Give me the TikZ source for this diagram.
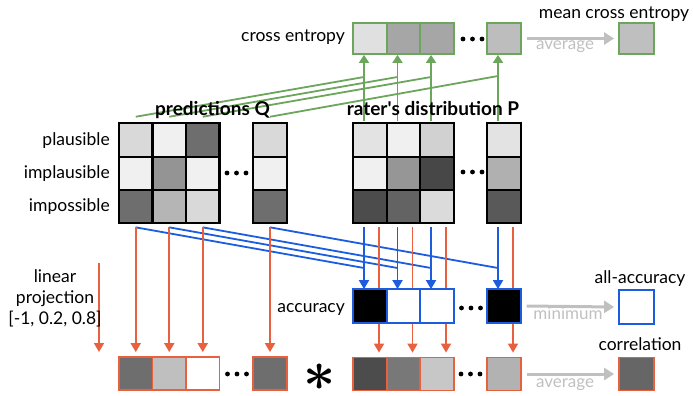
\documentclass[tikz,border=0pt]{standalone}
\usepackage{graphicx}
\usepackage{fontspec}
\setmainfont{Lato}
\usetikzlibrary{arrows.meta,calc}
\definecolor{ggreen}{RGB}{108,165,92}
\definecolor{gblue}{RGB}{28,92,222}
\definecolor{gred}{RGB}{233,96,62}
\definecolor{ggrey}{RGB}{192,192,192}
\newcommand{\mydots}[2]{\foreach \dx in {-9.5,0,9.5} \fill ({#1+\dx},#2) circle (2.4pt);}
\tikzset{
  cell/.style={draw=black, line width=2.2pt, minimum width=33.5pt, minimum height=33.3pt, inner sep=0pt, fill=#1},
  gcell/.style={draw=ggreen, line width=1.8pt, minimum width=33.5pt, minimum height=31pt, inner sep=0pt, fill=#1},
  bcell/.style={draw=gblue, line width=1.8pt, minimum width=33.5pt, minimum height=34pt, inner sep=0pt, fill=#1},
  rcell/.style={draw=gred, line width=1.8pt, minimum width=33.5pt, minimum height=33pt, inner sep=0pt, fill=#1},
  lab/.style={font=\fontsize{17.5}{21}\selectfont, inner sep=0pt},
  ttl/.style={font=\fontsize{19}{22}\selectfont\bfseries, inner sep=0pt},
  glab/.style={font=\fontsize{17}{20}\selectfont, text=ggrey, inner sep=0pt},
  gline/.style={draw=ggreen, line width=1.8pt},
  garrow/.style={gline, -{Triangle[width=10pt,length=8pt]}},
  bline/.style={draw=gblue, line width=1.8pt},
  barrow/.style={bline, -{Triangle[width=10pt,length=9pt]}},
  rarrow/.style={draw=gred, line width=1.8pt, -{Triangle[width=10pt,length=9pt]}},
  greyarrow/.style={draw=ggrey, line width=3pt, -{Triangle[width=12pt,length=10pt]}},
}
\begin{document}
\begin{tikzpicture}[x=1pt,y=-1pt]
\useasboundingbox (0,0) rectangle (693,396);

% ---- cross entropy row and its mean
\foreach \c/\x/\col in {1/370/black!12, 2/403.5/black!35, 3/437/black!35, 4/504/black!26}
  \node[gcell=\col] (ce\c) at (\x,38.5) {};
\node[gcell=black!25, minimum width=35pt] (cemean) at (636.5,38.5) {};
\node[lab, anchor=base east] (celab) at (345,42) {cross entropy};
\node[lab, anchor=base] (meanlab) at (614,19) {mean cross entropy};
\mydots{472.5}{39}
\draw[greyarrow] ([xshift=5pt]ce4.east) -- ([xshift=-4pt]cemean.west);
\node[glab, anchor=base] (avg1) at (565,50) {average};

% ---- junctions of the green connectors
\coordinate (gj1) at (364,77);
\coordinate (gj2) at (397.5,77);
\coordinate (gj3) at (431,77);
\coordinate (gj4) at (498,76);

% ---- prediction grid Q
\foreach \r/\y in {1/140,2/173.3,3/206.6}{
  \foreach \c/\x in {1/135.75,2/169.25,3/202.75,4/270}{
    \coordinate (qpos\r\c) at (\x,\y);
  }
}
\foreach \r/\c/\col in {1/1/black!15,1/2/black!6,1/3/black!57,1/4/black!15,
                        2/1/black!6,2/2/black!42,2/3/black!6,2/4/black!6,
                        3/1/black!57,3/2/black!29,3/3/black!15,3/4/black!57}
  \node[cell=\col] (q\r\c) at (qpos\r\c) {};
\mydots{236.5}{173}

% ---- rater's distribution P
\foreach \r/\y in {1/140,2/173.3,3/206.6}{
  \foreach \c/\x in {1/370,2/403.5,3/437,4/504}{
    \coordinate (ppos\r\c) at (\x,\y);
  }
}
\foreach \r/\c/\col in {1/1/black!11,1/2/black!6,1/3/black!18,1/4/black!11,
                        2/1/black!6,2/2/black!41,2/3/black!72,2/4/black!31,
                        3/1/black!70,3/2/black!61,3/3/black!14,3/4/black!65}
  \node[cell=\col] (p\r\c) at (ppos\r\c) {};
\mydots{472.5}{172}

% ---- green connectors: Q and P meet below each cross entropy cell
\foreach \c in {1,2,3,4}{
  \draw[gline] ([yshift=5.5pt]q1\c.north) -- (gj\c);
  \draw[garrow] ([xshift=-6pt,yshift=1pt]p1\c.north) -- ([xshift=-6pt]ce\c.south);
}

% ---- row labels and titles
\node[lab, anchor=base east] (lplaus) at (110,145) {plausible};
\node[lab, anchor=base east] (limpl) at (110,178) {implausible};
\node[lab, anchor=base east] (limpo) at (110,211) {impossible};
\node[ttl, anchor=base] (qtitle) at (212.5,115) {predictions Q};
\node[ttl, anchor=base] (ptitle) at (433,115) {rater\textquotesingle s distribution P};

% ---- bottom rows
\foreach \c/\x/\col in {1/135.75/black!57, 2/169.25/black!25, 3/202.75/white, 4/270/black!57}
  \node[rcell=\col] (lb\c) at (\x,373.5) {};
\foreach \c/\x/\col in {1/370/black!70, 2/403.5/black!53, 3/437/black!22, 4/504/black!30}
  \node[rcell=\col] (rb\c) at (\x,374) {};
\node[rcell=black!60, minimum width=35pt] (corr) at (636.5,374) {};
\mydots{237}{374}
\mydots{470.5}{374}

% ---- accuracy connectors (blue)
\coordinate (bj1) at (364,268);
\coordinate (bj2) at (397.5,268);
\coordinate (bj3) at (431,268);
\coordinate (bj4) at (498,268);
\foreach \c in {1,2,3,4}{
  \draw[bline] ([yshift=-3pt]q3\c.south) -- (bj\c);
}

% ---- accuracy row positions
\foreach \c/\x in {1/370, 2/403.5, 3/437, 4/504}
  \coordinate (acpos\c) at (\x,306);

% ---- linear projection connectors (red)
\foreach \c in {1,2,3,4}{
  \draw[rarrow, shorten >=4pt] ([yshift=-3pt]q3\c.south) -- (lb\c.north);
  \draw[rarrow, shorten >=4pt] ([xshift=9pt,yshift=-3pt]p3\c.south) -- ([xshift=9pt]rb\c.north);
}

% ---- accuracy row
\foreach \c/\col in {1/black, 2/white, 3/white, 4/black}
  \node[bcell=\col] (ac\c) at (acpos\c) {};
\foreach \c in {1,2,3,4}{
  \draw[barrow] ([xshift=-6pt,yshift=-3pt]p3\c.south) -- ([xshift=-6pt,yshift=-1pt]ac\c.north);
}
\node[bcell=white, minimum width=35pt] (allacc) at (636.5,307) {};
\mydots{471}{308}
\node[lab, anchor=base east] (acclab) at (345,312) {accuracy};
\node[lab, anchor=base] (allacclab) at (640,283) {all-accuracy};
\draw[greyarrow] ([xshift=5pt]ac4.east) -- ([xshift=-4pt]allacc.west);
\node[glab, anchor=base] (minlab) at (568,319) {minimum};

% ---- correlation
\node[lab, anchor=base] (corrlab) at (640,350) {correlation};
\draw[greyarrow] ([xshift=5pt]rb4.east) -- ([xshift=-4pt]corr.west);
\node[glab, anchor=base] (avg2) at (565,387) {average};

% ---- linear projection note
\coordinate (lp1) at (99,263);
\coordinate (lp2) at (99,352);
\draw[rarrow] (lp1) -- (lp2);
\node[lab, align=center, font=\fontsize{17.5}{21}\selectfont] (lpnote) at (55,298) {linear\\projection\\{}[-1, 0.2, 0.8]};

% ---- product sign
\node[inner sep=0pt, anchor=base] (star) at (320,390)
  {\scalebox{5.6}{\boldmath$\ast$}};
\end{tikzpicture}
\end{document}
